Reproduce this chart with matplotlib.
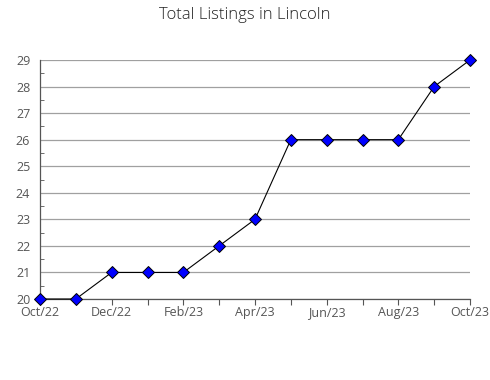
import matplotlib
matplotlib.use("Agg")
import matplotlib.pyplot as plt
from matplotlib.ticker import MultipleLocator

plt.rcParams['font.family'] = ['Open Sans', 'DejaVu Sans']

# data
months = ['Oct/22', 'Nov/22', 'Dec/22', 'Jan/23', 'Feb/23', 'Mar/23', 'Apr/23',
          'May/23', 'Jun/23', 'Jul/23', 'Aug/23', 'Sep/23', 'Oct/23']
listings = [20, 20, 21, 21, 21, 22, 23, 26, 26, 26, 26, 28, 29]
title = 'Total Listings in Lincoln'

fig = plt.figure(figsize=(4.9, 3.8), dpi=100)
ax = fig.add_axes([40 / 490, 81 / 380, 430 / 490, 239 / 380])

x = list(range(len(months)))
ax.plot(x, listings, color='black', lw=0.8, marker='D', ms=6,
        mfc='#0000ff', mec='black', mew=0.7, zorder=3, clip_on=False)

ax.set_xlim(0, len(months) - 1)
ax.set_ylim(20, 29)
ax.set_xticks(x)
ax.set_xticklabels([m if i % 2 == 0 else '' for i, m in enumerate(months)])
ax.yaxis.set_major_locator(MultipleLocator(1))
ax.yaxis.set_minor_locator(MultipleLocator(0.5))
ax.grid(axis='y', color='#a0a0a0', lw=0.9)
ax.set_axisbelow(True)

for s in ['top', 'right']:
    ax.spines[s].set_visible(False)
for s in ['left', 'bottom']:
    ax.spines[s].set_color('#555555')
    ax.spines[s].set_linewidth(0.9)

ax.tick_params(axis='x', direction='out', length=4, color='#555555',
               labelsize=9, labelcolor='#555555', pad=1)
ax.tick_params(axis='y', which='major', length=0, labelsize=9,
               labelcolor='#555555', pad=7)
ax.tick_params(axis='y', which='minor', direction='in', length=3, color='#555555')

fig.text(0.5, 1 - 15 / 380, title, ha='center', va='center', fontsize=12,
         color='#222222', fontweight='light')

fig.savefig('out.png', dpi=100)
